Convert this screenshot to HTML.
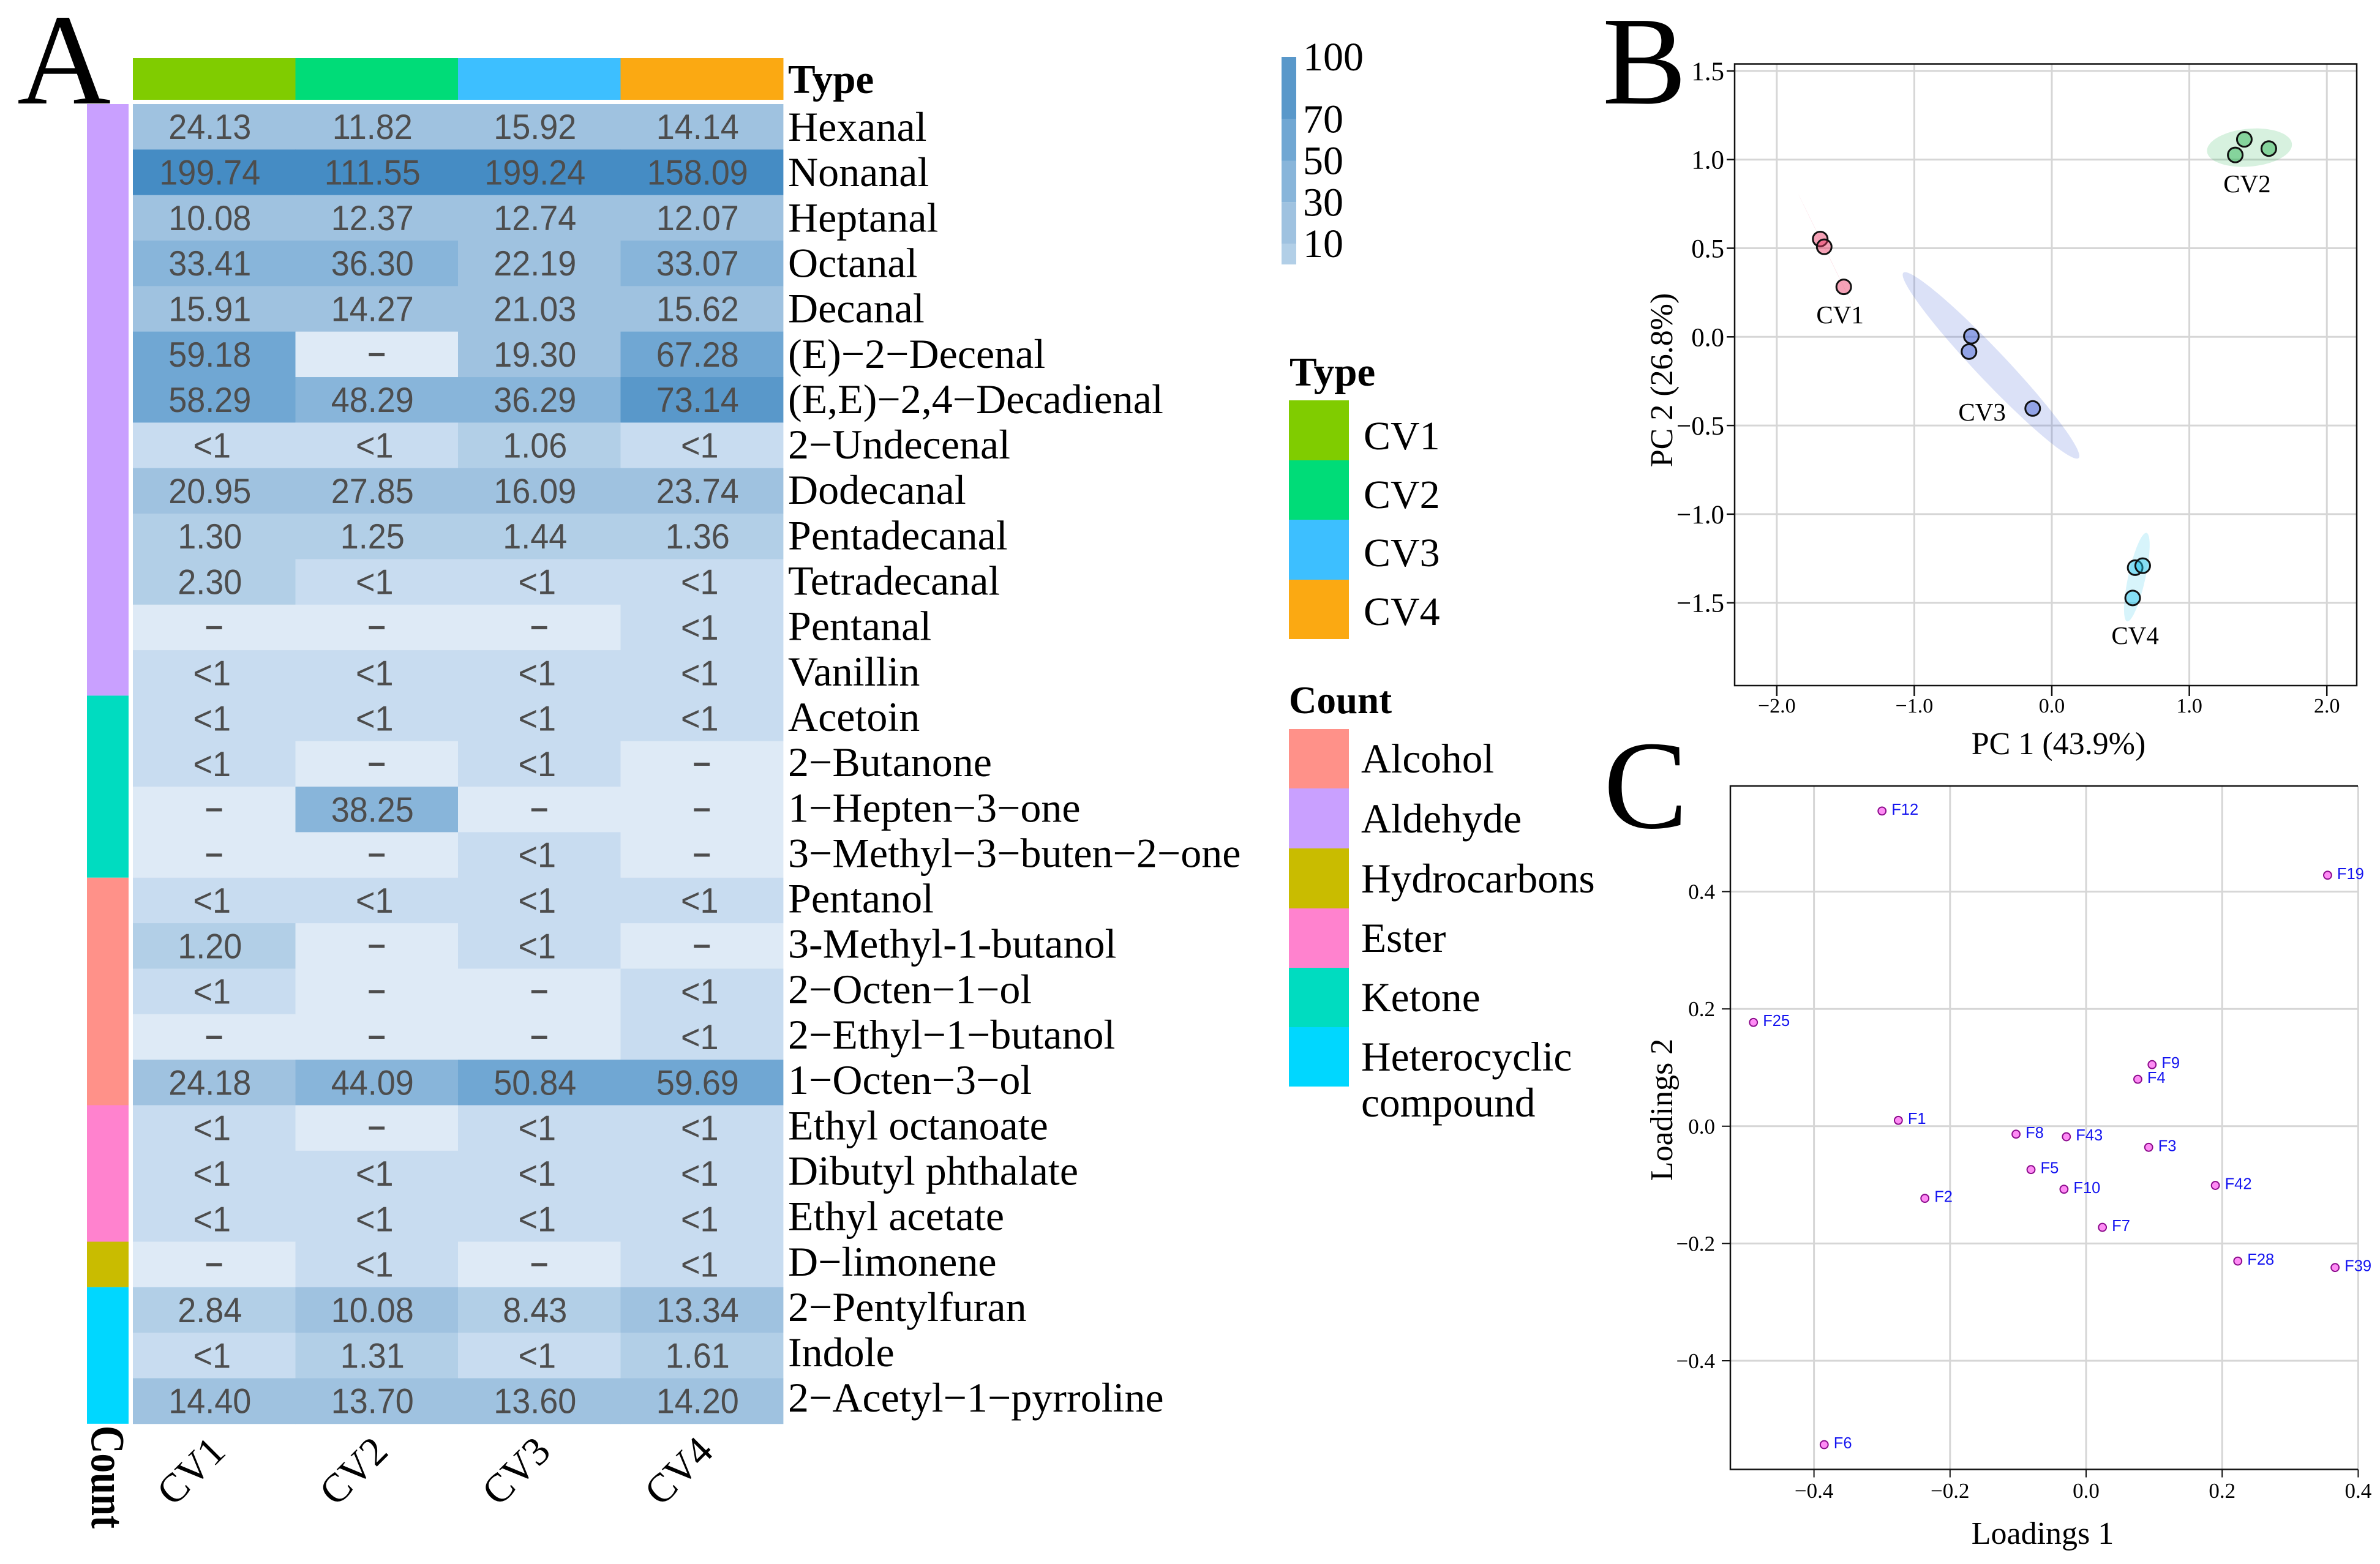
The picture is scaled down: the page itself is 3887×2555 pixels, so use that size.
<!DOCTYPE html>
<html>
<head>
<meta charset="utf-8">
<title>Volatile compounds heatmap and PCA</title>
<style>
html,body{margin:0;padding:0;background:#fff;}
svg{display:block;font-family:"Liberation Serif",serif;}
</style>
</head>
<body>
<svg id="fig" xmlns="http://www.w3.org/2000/svg" width="3887" height="2555" viewBox="0 0 3887 2555">
  <rect x="0" y="0" width="3887" height="2555" fill="#fff"/>
  <text x="28" y="169" font-size="212">A</text>
  <text x="2617" y="169" font-size="206">B</text>
  <text x="2619" y="1352" font-size="206">C</text>

  <g id="heatmap"></g>
  <text x="1287" y="152" font-size="67" font-weight="bold">Type</text>
  <text transform="translate(150,2329) rotate(90) scale(1,1.25)" x="0" y="0" font-size="63" font-weight="bold">Count</text>

  <g id="colorbar"></g>

  <g>
    <text x="2106" y="630" font-size="67" font-weight="bold">Type</text>
    <rect x="2105" y="654" width="98" height="98" fill="#80cc00"/>
    <rect x="2105" y="752" width="98" height="97" fill="#00dc78"/>
    <rect x="2105" y="849" width="98" height="98" fill="#3dbfff"/>
    <rect x="2105" y="947" width="98" height="97" fill="#fba912"/>
    <text x="2227" y="734" font-size="66">CV1</text>
    <text x="2227" y="830" font-size="66">CV2</text>
    <text x="2227" y="925" font-size="66">CV3</text>
    <text x="2227" y="1021" font-size="66">CV4</text>
  </g>

  <g>
    <text x="2105" y="1165" font-size="63" font-weight="bold">Count</text>
    <rect x="2105" y="1191" width="98" height="97" fill="#ff9189"/>
    <rect x="2105" y="1288" width="98" height="98" fill="#c9a0ff"/>
    <rect x="2105" y="1386" width="98" height="98" fill="#c9bc00"/>
    <rect x="2105" y="1484" width="98" height="97" fill="#ff82ce"/>
    <rect x="2105" y="1581" width="98" height="97" fill="#00dcc0"/>
    <rect x="2105" y="1678" width="98" height="97" fill="#00d7ff"/>
    <text x="2223" y="1262" font-size="67.4">Alcohol</text>
    <text x="2223" y="1360" font-size="67.4">Aldehyde</text>
    <text x="2223" y="1458" font-size="67.4">Hydrocarbons</text>
    <text x="2223" y="1555" font-size="67.4">Ester</text>
    <text x="2223" y="1652" font-size="67.4">Ketone</text>
    <text x="2223" y="1749" font-size="67.4">Heterocyclic</text>
    <text x="2223" y="1824" font-size="67.4">compound</text>
  </g>

  <g id="pca"></g>
  <text x="3362" y="1232" font-size="52" text-anchor="middle">PC 1 (43.9%)</text>
  <text transform="translate(2731,621) rotate(-90)" x="0" y="0" font-size="52" text-anchor="middle">PC 2 (26.8%)</text>

  <g id="loadings"></g>
  <text x="3336" y="2522" font-size="52" text-anchor="middle">Loadings 1</text>
  <text transform="translate(2731,1813) rotate(-90)" x="0" y="0" font-size="52" text-anchor="middle">Loadings 2</text>
</svg>

<script>
// ---------- Heatmap data ----------
var compounds = ["Hexanal","Nonanal","Heptanal","Octanal","Decanal","(E)\u22122\u2212Decenal","(E,E)\u22122,4\u2212Decadienal","2\u2212Undecenal","Dodecanal","Pentadecanal","Tetradecanal","Pentanal","Vanillin","Acetoin","2\u2212Butanone","1\u2212Hepten\u22123\u2212one","3\u2212Methyl\u22123\u2212buten\u22122\u2212one","Pentanol","3-Methyl-1-butanol","2\u2212Octen\u22121\u2212ol","2\u2212Ethyl\u22121\u2212butanol","1\u2212Octen\u22123\u2212ol","Ethyl octanoate","Dibutyl phthalate","Ethyl acetate","D\u2212limonene","2\u2212Pentylfuran","Indole","2\u2212Acetyl\u22121\u2212pyrroline"];
var cv1Values = ["24.13","199.74","10.08","33.41","15.91","59.18","58.29","<1","20.95","1.30","2.30","-","<1","<1","<1","-","-","<1","1.20","<1","-","24.18","<1","<1","<1","-","2.84","<1","14.40"];
var cv2Values = ["11.82","111.55","12.37","36.30","14.27","-","48.29","<1","27.85","1.25","<1","-","<1","<1","-","38.25","-","<1","-","-","-","44.09","-","<1","<1","<1","10.08","1.31","13.70"];
var cv3Values = ["15.92","199.24","12.74","22.19","21.03","19.30","36.29","1.06","16.09","1.44","<1","-","<1","<1","<1","-","<1","<1","<1","-","-","50.84","<1","<1","<1","-","8.43","<1","13.60"];
var cv4Values = ["14.14","158.09","12.07","33.07","15.62","67.28","73.14","<1","23.74","1.36","<1","<1","<1","<1","-","-","-","<1","-","<1","<1","59.69","<1","<1","<1","<1","13.34","1.61","14.20"];
var typeNames = ["CV1","CV2","CV3","CV4"];
var typeColors = ["#80cc00","#00dc78","#3dbfff","#fba912"];
var countNames = ["Aldehyde","Ketone","Alcohol","Ester","Hydrocarbons","Heterocyclic"];
var countRows = [13,4,5,3,1,3];
var countColors = ["#c9a0ff","#00dcc0","#ff9189","#ff82ce","#c9bc00","#00d7ff"];
var scaleTicks = [100,70,50,30,10];
var scaleBreaks = [0,10,30,50,70,100];

// ---------- PCA score data ----------
var pcaGroups = ["CV1","CV2","CV3","CV4"];
var pc1Cv1 = [-1.684,-1.655,-1.513];
var pc2Cv1 = [0.552,0.508,0.282];
var pc1Cv2 = [1.40,1.578,1.334];
var pc2Cv2 = [1.114,1.062,1.026];
var pc1Cv3 = [-0.585,-0.602,-0.139];
var pc2Cv3 = [0.004,-0.083,-0.404];
var pc1Cv4 = [0.606,0.661,0.588];
var pc2Cv4 = [-1.302,-1.291,-1.473];
var pcaGroupPc1Label = [-1.54,1.42,-0.507,0.606];
var pcaGroupPc2Label = [0.077,0.816,-0.472,-1.733];
var pcaXTicks = [-2,-1,0,1,2];
var pcaXTickLabels = ["\u22122.0","\u22121.0","0.0","1.0","2.0"];
var pcaYTicks = [1.5,1,0.5,0,-0.5,-1,-1.5];
var pcaYTickLabels = ["1.5","1.0","0.5","0.0","\u22120.5","\u22121.0","\u22121.5"];

// ---------- Loadings data ----------
var loadingNames = ["F12","F19","F25","F9","F4","F1","F8","F43","F3","F5","F10","F42","F2","F7","F28","F39","F6"];
var loadings1 = [-0.300,0.355,-0.489,0.097,0.076,-0.276,-0.103,-0.029,0.092,-0.081,-0.0325,0.190,-0.237,0.024,0.223,0.366,-0.385];
var loadings2 = [0.5375,0.428,0.177,0.105,0.080,0.010,-0.0136,-0.018,-0.036,-0.074,-0.1075,-0.101,-0.123,-0.1725,-0.230,-0.241,-0.543];
var loadXTicks = [-0.4,-0.2,0,0.2,0.4];
var loadXTickLabels = ["\u22120.4","\u22120.2","0.0","0.2","0.4"];
var loadYTicks = [0.4,0.2,0,-0.2,-0.4];
var loadYTickLabels = ["0.4","0.2","0.0","\u22120.2","\u22120.4"];

var NS = "http://www.w3.org/2000/svg";
function make(tag, attrs, parent, text) {
  var el = document.createElementNS(NS, tag);
  for (var k in attrs) { el.setAttribute(k, attrs[k]); }
  if (text !== undefined) { el.textContent = text; }
  parent.appendChild(el);
  return el;
}
function cellColor(v) {
  if (v === "-") return "#deeaf6";
  if (v === "<1") return "#c8dcf0";
  var n = parseFloat(v);
  if (n < 10) return "#b2cfe7";
  if (n < 30) return "#9fc2e0";
  if (n < 50) return "#88b5da";
  if (n < 70) return "#70a7d3";
  if (n < 100) return "#5998ca";
  return "#458cc4";
}

// ---------- Panel A ----------
(function () {
  var g = document.getElementById("heatmap");
  var left = 217, colW = 265.5, top = 170, rowH = 74.34;
  function colX(c) { return left + colW * c; }
  function rowY(r) { return top + rowH * r; }
  var columns = [cv1Values, cv2Values, cv3Values, cv4Values];

  typeNames.forEach(function (name, c) {
    var strip = make("rect", {x: colX(c), y: 95, width: colW + 0.5, height: 68, fill: typeColors[c]}, g);
    
    
    var lab = make("text", {transform: "translate(" + (colX(c) + colW / 2 - 38) + ",2403) rotate(-45)", x: 0, y: 22, "font-size": 66, "text-anchor": "middle"}, g, name);
    
    
  });

  var start = 0;
  countRows.forEach(function (n, i) {
    var seg = make("rect", {x: 142, y: rowY(start), width: 68, height: rowH * n, fill: countColors[i]}, g);
    
    
    start += n;
  });

  compounds.forEach(function (name, r) {
    var cy = rowY(r) + rowH / 2;
    columns.forEach(function (vals, c) {
      var v = vals[r];
      var cell = make("rect", {x: colX(c), y: rowY(r), width: colW + 0.4, height: rowH + 0.4, fill: cellColor(v)}, g);
      
      
      var cx = colX(c) + colW / 2;
      var attrs;
      if (v === "-") {
        attrs = {transform: "translate(" + cx + "," + (cy + 18) + ") scale(1.6,1)", "font-size": 66};
      } else if (v === "<1") {
        attrs = {transform: "translate(" + (cx - 3.5) + "," + (cy + 20) + ") scale(1,1.06)", "font-size": 54};
      } else {
        attrs = {transform: "translate(" + (cx - 7) + "," + (cy + 20) + ") scale(1,1.06)", "font-size": 54};
      }
      attrs["text-anchor"] = "middle";
      attrs.fill = "#4d4d4d";
      attrs["font-family"] = '"Liberation Sans",sans-serif';
      var val = make("text", attrs, g, v);
      
      
    });
    var lab = make("text", {x: 1287, y: 230 + 74.15 * r, "font-size": 68}, g, name);
    
    
  });

  // colour scale
  var cb = document.getElementById("colorbar");
  function scaleY(v) { return 432 - 3.39 * v; }
  for (var i = 0; i < scaleBreaks.length - 1; i++) {
    var lo = scaleBreaks[i], hi = scaleBreaks[i + 1];
    var seg = make("rect", {x: 2093, y: scaleY(hi), width: 24, height: scaleY(lo) - scaleY(hi), fill: cellColor(String(lo + 1 + (lo === 0 ? 1 : 0)))}, cb);
    
    
  }
  scaleTicks.forEach(function (t) {
    var lab = make("text", {x: 2128, y: scaleY(t) + 22, "font-size": 66}, cb, String(t));
    
    
  });
})();

// ---------- Panel B ----------
(function () {
  var g = document.getElementById("pca");
  var L = 2833, R = 3849, T = 104.5, B = 1120;
  function x(v) { return 3351 + 224.6 * v; }
  function y(v) { return 550.3 - 289.6 * v; }

  pcaXTicks.forEach(function (t, i) {
    var gl = make("line", {x1: x(t), x2: x(t), y1: T, y2: B, stroke: "#d6d6d6", "stroke-width": 3}, g);
    
    
    var tk = make("line", {x1: x(t), x2: x(t), y1: B, y2: B + 17, stroke: "#111", "stroke-width": 2.5}, g);
    
    
    var lb = make("text", {x: x(t), y: 1164, "font-size": 34, "text-anchor": "middle"}, g, pcaXTickLabels[i]);
    
    
  });
  pcaYTicks.forEach(function (t, i) {
    var gl = make("line", {x1: L, x2: R, y1: y(t), y2: y(t), stroke: "#d6d6d6", "stroke-width": 3}, g);
    
    
    var tk = make("line", {x1: L - 13, x2: L, y1: y(t), y2: y(t), stroke: "#111", "stroke-width": 2.5}, g);
    
    
    var lb = make("text", {x: 2816, y: y(t) + 15, "font-size": 43, "text-anchor": "end"}, g, pcaYTickLabels[i]);
    
    
  });
  var box = make("rect", {x: L, y: T, width: R - L, height: B - T, fill: "none", stroke: "#111", "stroke-width": 2.5}, g);
  
  

  var xs = [pc1Cv1, pc1Cv2, pc1Cv3, pc1Cv4];
  var ys = [pc2Cv1, pc2Cv2, pc2Cv3, pc2Cv4];
  var colors = ["#e8305f", "#22b14c", "#3a58d0", "#22c4ea"];

  // 95% confidence ellipses derived from the group's points
  pcaGroups.forEach(function (name, gi) {
    var a = xs[gi], b = ys[gi], n = a.length;
    var mx = 0, my = 0, i;
    for (i = 0; i < n; i++) { mx += a[i] / n; my += b[i] / n; }
    var sxx = 0, syy = 0, sxy = 0;
    for (i = 0; i < n; i++) {
      sxx += (a[i] - mx) * (a[i] - mx) / (n - 1);
      syy += (b[i] - my) * (b[i] - my) / (n - 1);
      sxy += (a[i] - mx) * (b[i] - my) / (n - 1);
    }
    var m = (sxx + syy) / 2, d = Math.sqrt((sxx - syy) * (sxx - syy) / 4 + sxy * sxy);
    var l1 = m + d, l2 = Math.max(m - d, 0);
    var th = 0.5 * Math.atan2(2 * sxy, sxx - syy);
    var c = Math.cos(th), s = Math.sin(th);
    var k = Math.sqrt(5.991), r1 = k * Math.sqrt(l1), r2 = k * Math.sqrt(l2);
    var dStr = "";
    for (var j = 0; j < 96; j++) {
      var t = j / 96 * 2 * Math.PI;
      var ex = mx + r1 * Math.cos(t) * c - r2 * Math.sin(t) * s;
      var ey = my + r1 * Math.cos(t) * s + r2 * Math.sin(t) * c;
      dStr += (j ? "L" : "M") + x(ex).toFixed(1) + " " + y(ey).toFixed(1);
    }
    var el = make("path", {d: dStr + "Z", fill: colors[gi], "fill-opacity": 0.18}, g);
    
    
  });

  pcaGroups.forEach(function (name, gi) {
    xs[gi].forEach(function (v, i) {
      var p = make("circle", {cx: x(v), cy: y(ys[gi][i]), r: 12, fill: colors[gi], "fill-opacity": 0.45, stroke: "#111", "stroke-width": 3}, g);
      
      
    });
    var lab = make("text", {x: x(pcaGroupPc1Label[gi]), y: y(pcaGroupPc2Label[gi]), "font-size": 41, "text-anchor": "middle"}, g, name);
    
    
  });
})();

// ---------- Panel C ----------
(function () {
  var g = document.getElementById("loadings");
  var L = 2826, R = 3851, T = 1284, B = 2400.5;
  function x(v) { return 3407 + 1111 * v; }
  function y(v) { return 1839.8 - 958 * v; }

  loadXTicks.forEach(function (t, i) {
    var gl = make("line", {x1: x(t), x2: x(t), y1: T, y2: B, stroke: "#d6d6d6", "stroke-width": 3}, g);
    
    
    var tk = make("line", {x1: x(t), x2: x(t), y1: B, y2: B + 13, stroke: "#111", "stroke-width": 2}, g);
    
    
    var lb = make("text", {x: x(t), y: 2447, "font-size": 35, "text-anchor": "middle"}, g, loadXTickLabels[i]);
    
    
  });
  loadYTicks.forEach(function (t, i) {
    var gl = make("line", {x1: L, x2: R, y1: y(t), y2: y(t), stroke: "#d6d6d6", "stroke-width": 3}, g);
    
    
    var tk = make("line", {x1: L - 14, x2: L, y1: y(t), y2: y(t), stroke: "#111", "stroke-width": 2}, g);
    
    
    var lb = make("text", {x: 2801, y: y(t) + 12, "font-size": 35, "text-anchor": "end"}, g, loadYTickLabels[i]);
    
    
  });
  var frame = make("path", {d: "M" + R + " " + T + "H" + L + "V" + B + "H" + R, fill: "none", stroke: "#111", "stroke-width": 2.5}, g);
  
  

  loadingNames.forEach(function (name, i) {
    var cx = x(loadings1[i]), cy = y(loadings2[i]);
    var p = make("circle", {cx: cx, cy: cy, r: 6.4, fill: "#ff8cf5", stroke: "#8b0a8b", "stroke-width": 2}, g);
    
    
    var lab = make("text", {x: cx + 15.5, y: cy + 6, "font-size": 25.5, fill: "#1414f0", "font-family": '"Liberation Sans",sans-serif'}, g, name);
    
    
  });
})();
</script>
</body>
</html>
